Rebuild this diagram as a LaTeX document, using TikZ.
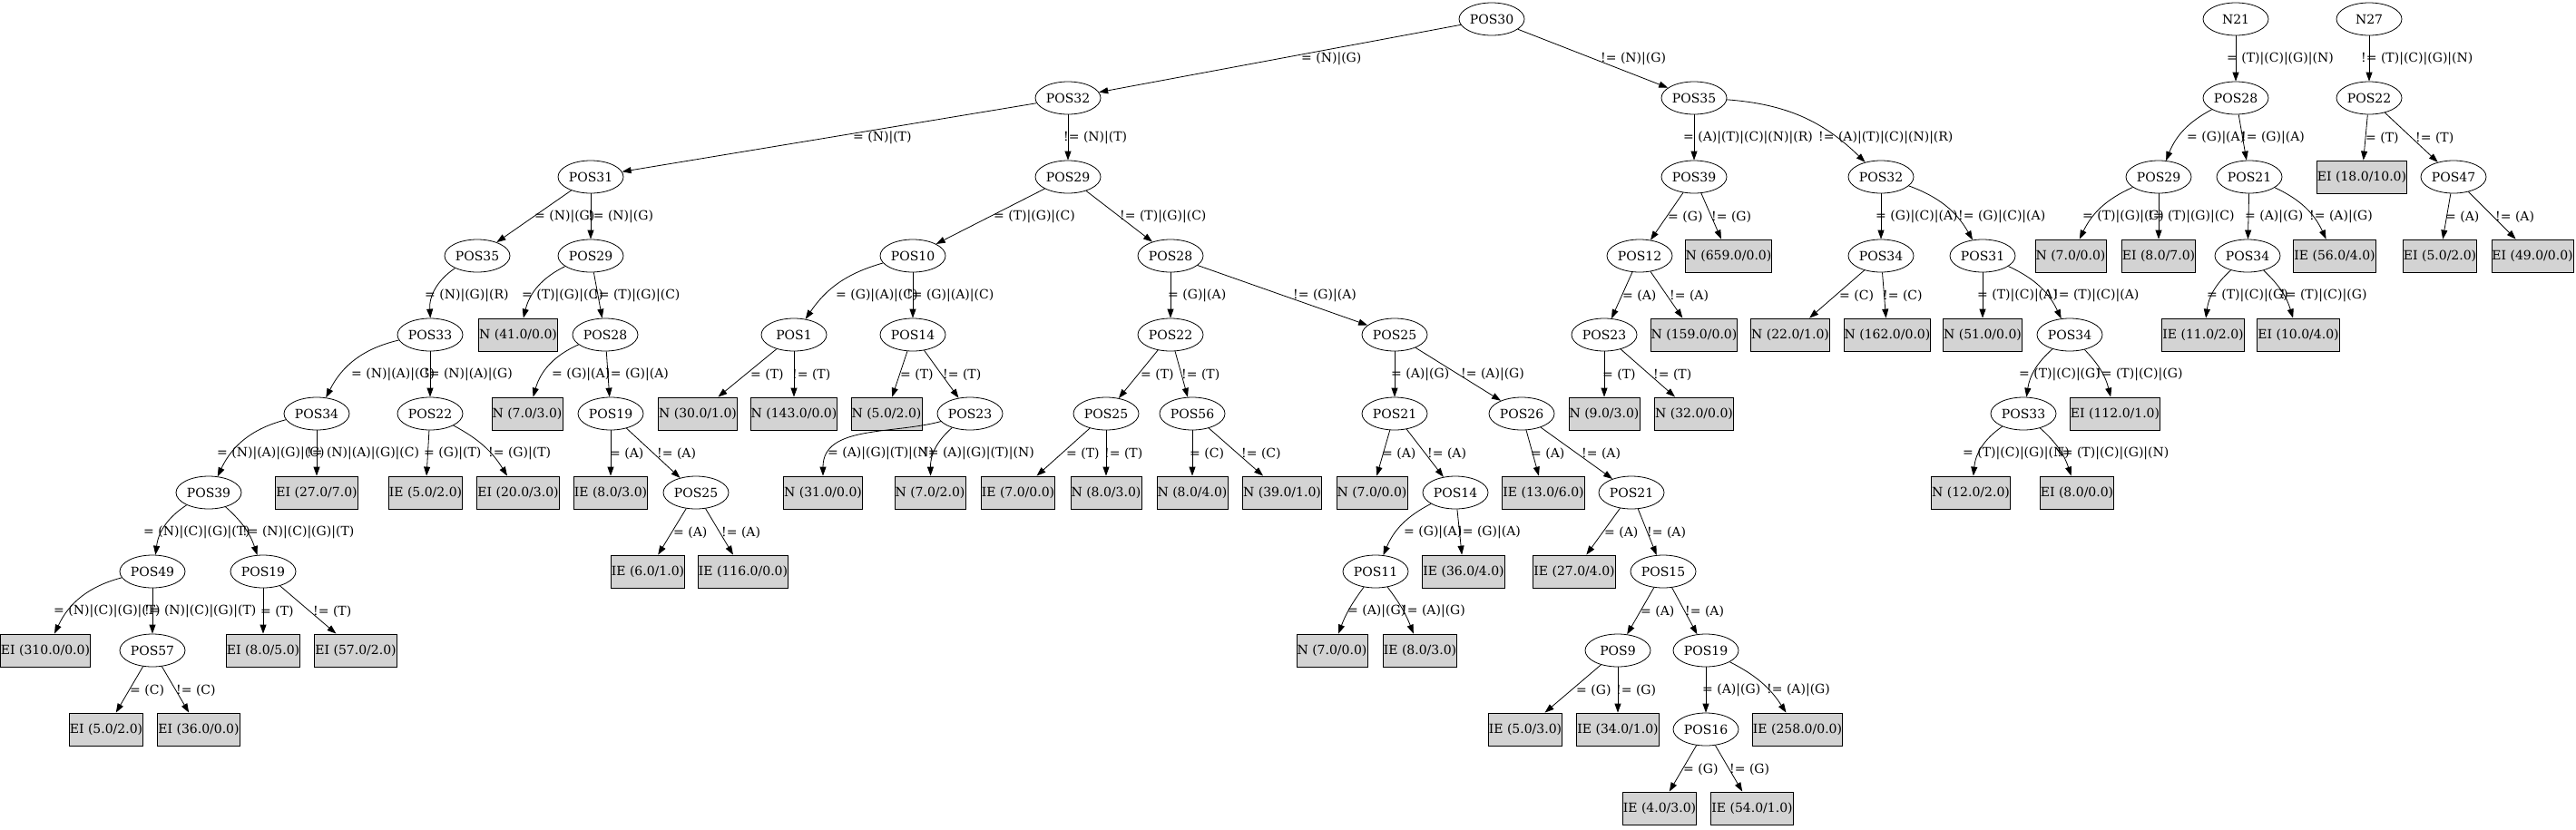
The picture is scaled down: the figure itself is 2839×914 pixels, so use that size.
\documentclass[tikz,border=0pt]{standalone}
\usepackage{fontspec}
\setmainfont{DejaVu Serif}
\usetikzlibrary{shapes.geometric,arrows.meta}
\definecolor{boxgray}{RGB}{211,211,211}
\tikzset{
  el/.style={draw, ellipse, minimum width=72pt, minimum height=36pt, inner sep=0pt, line width=0.8pt, font=\fontsize{14}{16}\selectfont},
  bx/.style={draw, rectangle, fill=boxgray, minimum height=36pt, inner xsep=0.5pt, inner ysep=0pt, line width=0.8pt, font=\fontsize{14}{16}\selectfont},
  lab/.style={anchor=west, inner sep=0pt, font=\fontsize{14}{16}\selectfont},
  e/.style={line width=0.8pt, -{Triangle[length=10pt,width=7pt]}},
}
\newcommand\edg[6][]{\draw[e] (#2) to[#1] (#3); \node[lab] (L#2-#3) at (#4,#5) {#6};}
\begin{document}
\begin{tikzpicture}[x=1pt,y=-1pt]
\useasboundingbox (0,0) rectangle (2839,914);
% level 0
\node[el] (a30) at (1644,21) {POS30};
\node[el] (n21) at (2464,21) {N21};
\node[el] (n27) at (2611,21) {N27};
% level 1
\node[el] (a32) at (1177,108) {POS32};
\node[el] (b35) at (1867,108) {POS35};
\node[el] (c28) at (2464,108) {POS28};
\node[el] (d22) at (2611,108) {POS22};
% level 2
\node[el] (a31) at (651,195) {POS31};
\node[el] (a29) at (1177,195) {POS29};
\node[el] (b39) at (1867,195) {POS39};
\node[el] (b32) at (2073,195) {POS32};
\node[el] (c29) at (2379,195) {POS29};
\node[el] (c21) at (2479,195) {POS21};
\node[bx] (d18) at (2603,195) {EI (18.0/10.0)};
\node[el] (d47) at (2704,195) {POS47};
% level 3
\node[el] (a35) at (526,282) {POS35};
\node[el] (a29b) at (651,282) {POS29};
\node[el] (a10) at (1006,282) {POS10};
\node[el] (a28) at (1290,282) {POS28};
\node[el] (b12) at (1807,282) {POS12};
\node[bx] (b659) at (1905,282) {N (659.0/0.0)};
\node[el] (b34) at (2073,282) {POS34};
\node[el] (b31) at (2185,282) {POS31};
\node[bx] (c7) at (2282,282) {N (7.0/0.0)};
\node[bx] (c8) at (2379,282) {EI (8.0/7.0)};
\node[el] (c34) at (2477,282) {POS34};
\node[bx] (c56) at (2573,282) {IE (56.0/4.0)};
\node[bx] (d5) at (2689,282) {EI (5.0/2.0)};
\node[bx] (d49) at (2791,282) {EI (49.0/0.0)};
% level 4
\node[el] (a33) at (474,369) {POS33};
\node[bx] (a41) at (571,369) {N (41.0/0.0)};
\node[el] (a28b) at (667,369) {POS28};
\node[el] (a1) at (875,369) {POS1};
\node[el] (a14) at (1006,369) {POS14};
\node[el] (a22) at (1290,369) {POS22};
\node[el] (a25) at (1537,369) {POS25};
\node[el] (b23) at (1768,369) {POS23};
\node[bx] (b159) at (1867,369) {N (159.0/0.0)};
\node[bx] (b22n) at (1973,369) {N (22.0/1.0)};
\node[bx] (b162) at (2080,369) {N (162.0/0.0)};
\node[bx] (b51) at (2185,369) {N (51.0/0.0)};
\node[el] (b34b) at (2281,369) {POS34};
\node[bx] (c11) at (2428,369) {IE (11.0/2.0)};
\node[bx] (c10) at (2533,369) {EI (10.0/4.0)};
% level 5
\node[el] (a34) at (349,456) {POS34};
\node[el] (a22b) at (474,456) {POS22};
\node[bx] (a7) at (581,456) {N (7.0/3.0)};
\node[el] (a19) at (673,456) {POS19};
\node[bx] (a30n) at (769,456) {N (30.0/1.0)};
\node[bx] (a143) at (875,456) {N (143.0/0.0)};
\node[bx] (a5) at (977,456) {N (5.0/2.0)};
\node[el] (a23) at (1069,456) {POS23};
\node[el] (a25b) at (1219,456) {POS25};
\node[el] (a56) at (1314,456) {POS56};
\node[el] (a21) at (1537,456) {POS21};
\node[el] (a26) at (1677,456) {POS26};
\node[bx] (b9) at (1768,456) {N (9.0/3.0)};
\node[bx] (b32n) at (1867,456) {N (32.0/0.0)};
\node[el] (b33) at (2230,456) {POS33};
\node[bx] (b112) at (2331,456) {EI (112.0/1.0)};
% level 6
\node[el] (a39) at (230,543) {POS39};
\node[bx] (a27) at (349,543) {EI (27.0/7.0)};
\node[bx] (a5b) at (469,543) {IE (5.0/2.0)};
\node[bx] (a20) at (571,543) {EI (20.0/3.0)};
\node[bx] (a8) at (673,543) {IE (8.0/3.0)};
\node[el] (a25c) at (767,543) {POS25};
\node[bx] (a31n) at (907,543) {N (31.0/0.0)};
\node[bx] (a7b) at (1025,543) {N (7.0/2.0)};
\node[bx] (a7c) at (1122,543) {IE (7.0/0.0)};
\node[bx] (a8b) at (1219,543) {N (8.0/3.0)};
\node[bx] (a8c) at (1314,543) {N (8.0/4.0)};
\node[bx] (a39n) at (1413,543) {N (39.0/1.0)};
\node[bx] (a7d) at (1512,543) {N (7.0/0.0)};
\node[el] (a14b) at (1604,543) {POS14};
\node[bx] (a13) at (1701,543) {IE (13.0/6.0)};
\node[el] (a21b) at (1798,543) {POS21};
\node[bx] (b12n) at (2172,543) {N (12.0/2.0)};
\node[bx] (b8) at (2289,543) {EI (8.0/0.0)};
% level 7
\node[el] (a49) at (168,630) {POS49};
\node[el] (a19b) at (290,630) {POS19};
\node[bx] (a6) at (714,630) {IE (6.0/1.0)};
\node[bx] (a116) at (819,630) {IE (116.0/0.0)};
\node[el] (a11) at (1516,630) {POS11};
\node[bx] (a36) at (1613,630) {IE (36.0/4.0)};
\node[bx] (a27b) at (1735,630) {IE (27.0/4.0)};
\node[el] (a15) at (1833,630) {POS15};
% level 8
\node[bx] (a310) at (50,717) {EI (310.0/0.0)};
\node[el] (a57) at (168,717) {POS57};
\node[bx] (a8d) at (290,717) {EI (8.0/5.0)};
\node[bx] (a57n) at (392,717) {EI (57.0/2.0)};
\node[bx] (a7e) at (1468,717) {N (7.0/0.0)};
\node[bx] (a8e) at (1565,717) {IE (8.0/3.0)};
\node[el] (a9) at (1783,717) {POS9};
\node[el] (a19c) at (1880,717) {POS19};
% level 9
\node[bx] (a5c) at (117,804) {EI (5.0/2.0)};
\node[bx] (a36b) at (219,804) {EI (36.0/0.0)};
\node[bx] (a5d) at (1681,804) {IE (5.0/3.0)};
\node[bx] (a34n) at (1783,804) {IE (34.0/1.0)};
\node[el] (a16) at (1880,804) {POS16};
\node[bx] (a258) at (1981,804) {IE (258.0/0.0)};
% level 10
\node[bx] (a4) at (1829,891) {IE (4.0/3.0)};
\node[bx] (a54) at (1931,891) {IE (54.0/1.0)};

% edges level 0-1
\edg{a30}{a32}{1434}{65}{= (N)|(G)}
\edg{a30}{b35}{1764}{65}{!= (N)|(G)}
\edg{n21}{c28}{2454}{65}{= (T)|(C)|(G)|(N)}
\edg{n27}{d22}{2602}{65}{!= (T)|(C)|(G)|(N)}
% level 1-2
\edg{a32}{a31}{940}{152}{= (N)|(T)}
\edg{a32}{a29}{1172}{152}{!= (N)|(T)}
\edg{b35}{b39}{1855}{152}{= (A)|(T)|(C)|(N)|(R)}
\edg[bend left=20]{b35}{b32}{2004}{152}{!= (A)|(T)|(C)|(N)|(R)}
\edg[bend right=20]{c28}{c29}{2410}{152}{= (G)|(A)}
\edg{c28}{c21}{2470}{152}{!= (G)|(A)}
\edg{d22}{d18}{2607}{152}{= (T)}
\edg{d22}{d47}{2662}{152}{!= (T)}
% level 2-3
\edg{a31}{a35}{589}{239}{= (N)|(G)}
\edg{a31}{a29b}{648}{239}{!= (N)|(G)}
\edg{a29}{a10}{1095}{239}{= (T)|(G)|(C)}
\edg{a29}{a28}{1234}{239}{!= (T)|(G)|(C)}
\edg{b39}{b12}{1838}{239}{= (G)}
\edg{b39}{b659}{1886}{239}{!= (G)}
\edg{b32}{b34}{2067}{239}{= (G)|(C)|(A)}
\edg[bend left=20]{b32}{b31}{2158}{239}{!= (G)|(C)|(A)}
\edg[bend right=20]{c29}{c7}{2295}{239}{= (T)|(G)|(C)}
\edg{c29}{c8}{2367}{239}{!= (T)|(G)|(C)}
\edg{c21}{c34}{2474}{239}{= (A)|(G)}
\edg[bend left=20]{c21}{c56}{2545}{239}{!= (A)|(G)}
\edg{d47}{d5}{2695}{239}{= (A)}
\edg{d47}{d49}{2750}{239}{!= (A)}
% level 3-4
\edg[bend right=30]{a35}{a33}{468}{326}{= (N)|(G)|(R)}
\edg[bend right=25]{a29b}{a41}{575}{326}{= (T)|(G)|(C)}
\edg{a29b}{a28b}{654}{326}{!= (T)|(G)|(C)}
\edg[bend right=20]{a10}{a1}{921}{326}{= (G)|(A)|(C)}
\edg{a10}{a14}{999}{326}{!= (G)|(A)|(C)}
\edg{a28}{a22}{1287}{326}{= (G)|(A)}
\edg{a28}{a25}{1425}{326}{!= (G)|(A)}
\edg{b12}{b23}{1788}{326}{= (A)}
\edg{b12}{b159}{1840}{326}{!= (A)}
\edg{b34}{b22n}{2027}{326}{= (C)}
\edg{b34}{b162}{2075}{326}{!= (C)}
\edg{b31}{b51}{2179}{326}{= (T)|(C)|(A)}
\edg[bend left=20]{b31}{b34b}{2263}{326}{!= (T)|(C)|(A)}
\edg[bend right=20]{c34}{c11}{2432}{326}{= (T)|(C)|(G)}
\edg[bend left=15]{c34}{c10}{2513}{326}{!= (T)|(C)|(G)}
% level 4-5
\edg[bend right=25]{a33}{a34}{387}{413}{= (N)|(A)|(G)}
\edg{a33}{a22b}{467}{413}{!= (N)|(A)|(G)}
\edg[bend right=25]{a28b}{a7}{608}{413}{= (G)|(A)}
\edg{a28b}{a19}{667}{413}{!= (G)|(A)}
\edg{a1}{a30n}{827}{413}{= (T)}
\edg{a1}{a143}{873}{413}{!= (T)}
\edg{a14}{a5}{992}{413}{= (T)}
\edg{a14}{a23}{1039}{413}{!= (T)}
\edg{a22}{a25b}{1257}{413}{= (T)}
\edg{a22}{a56}{1302}{413}{!= (T)}
\edg{a25}{a21}{1533}{413}{= (A)|(G)}
\edg{a25}{a26}{1610}{413}{!= (A)|(G)}
\edg{b23}{b9}{1766}{413}{= (T)}
\edg{b23}{b32n}{1822}{413}{!= (T)}
\edg[bend right=20]{b34b}{b33}{2225}{413}{= (T)|(C)|(G)}
\edg[bend left=15]{b34b}{b112}{2310}{413}{!= (T)|(C)|(G)}
% level 5-6
\edg[bend right=25]{a34}{a39}{239}{500}{= (N)|(A)|(G)|(C)}
\edg{a34}{a27}{338}{500}{!= (N)|(A)|(G)|(C)}
\edg{a22b}{a5b}{467}{500}{= (G)|(T)}
\edg[bend left=15]{a22b}{a20}{538}{500}{!= (G)|(T)}
\edg{a19}{a8}{672}{500}{= (A)}
\edg{a19}{a25c}{724}{500}{!= (A)}
\edg[out=195,in=90]{a23}{a31n}{912}{500}{= (A)|(G)|(T)|(N)}
\edg[bend right=25]{a23}{a7b}{1017}{500}{!= (A)|(G)|(T)|(N)}
\edg{a25b}{a7c}{1175}{500}{= (T)}
\edg{a25b}{a8b}{1217}{500}{!= (T)}
\edg{a56}{a8c}{1311}{500}{= (C)}
\edg{a56}{a39n}{1368}{500}{!= (C)}
\edg{a21}{a7d}{1523}{500}{= (A)}
\edg{a21}{a14b}{1573}{500}{!= (A)}
\edg{a26}{a13}{1687}{500}{= (A)}
\edg{a26}{a21b}{1743}{500}{!= (A)}
\edg[bend right=25]{b33}{b12n}{2163}{500}{= (T)|(C)|(G)|(N)}
\edg[bend left=15]{b33}{b8}{2267}{500}{!= (T)|(C)|(G)|(N)}
% level 6-7
\edg[bend right=25]{a39}{a49}{158}{587}{= (N)|(C)|(G)|(T)}
\edg[bend left=15]{a39}{a19b}{267}{587}{!= (N)|(C)|(G)|(T)}
\edg{a25c}{a6}{742}{587}{= (A)}
\edg{a25c}{a116}{795}{587}{!= (A)}
\edg[bend right=20]{a14b}{a11}{1547}{587}{= (G)|(A)}
\edg{a14b}{a36}{1606}{587}{!= (G)|(A)}
\edg{a21b}{a27b}{1768}{587}{= (A)}
\edg{a21b}{a15}{1815}{587}{!= (A)}
% level 7-8
\edg[bend right=25]{a49}{a310}{59}{674}{= (N)|(C)|(G)|(T)}
\edg{a49}{a57}{159}{674}{!= (N)|(C)|(G)|(T)}
\edg{a19b}{a8d}{287}{674}{= (T)}
\edg{a19b}{a57n}{345}{674}{!= (T)}
\edg[bend right=8]{a11}{a7e}{1485}{674}{= (A)|(G)}
\edg[bend left=8]{a11}{a8e}{1545}{674}{!= (A)|(G)}
\edg{a15}{a9}{1808}{674}{= (A)}
\edg{a15}{a19c}{1857}{674}{!= (A)}
% level 8-9
\edg{a57}{a5c}{143}{761}{= (C)}
\edg{a57}{a36b}{194}{761}{!= (C)}
\edg{a9}{a5d}{1737}{761}{= (G)}
\edg{a9}{a34n}{1781}{761}{!= (G)}
\edg{a19c}{a16}{1876}{761}{= (A)|(G)}
\edg[bend left=15]{a19c}{a258}{1947}{761}{!= (A)|(G)}
% level 9-10
\edg{a16}{a4}{1855}{848}{= (G)}
\edg{a16}{a54}{1906}{848}{!= (G)}
\end{tikzpicture}
\end{document}
